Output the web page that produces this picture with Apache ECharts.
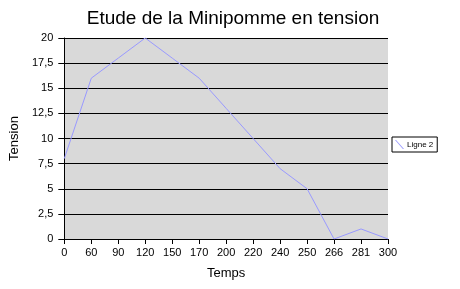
<!DOCTYPE html>
<html><head><meta charset="utf-8">
<script src="https://cdn.jsdelivr.net/npm/echarts@6/dist/echarts.min.js"></script>
<style>html,body{margin:0;padding:0;background:#fff}#c{width:460px;height:289px}</style>
</head><body><div id="c"></div>
<script>
var categories = ['0','60','90','120','150','170','200','220','240','250','266','281','300'];
var ligne2 = [8,16,18,20,18,16,13,10,7,5,0,1,0];
var yTicks = {min:0, max:20, interval:2.5};

var chart = echarts.init(document.getElementById('c'));
chart.setOption({
  animation:false,
  textStyle:{fontFamily:'Liberation Sans, Arial, sans-serif', color:'#000'},
  title:{text:'Etude de la Minipomme en tension', left:228, textAlign:'center', top:4,
    textStyle:{fontFamily:'Liberation Sans, Arial, sans-serif', fontSize:19, fontWeight:'normal', color:'#000'}},
  grid:{left:61, top:38, right:72, bottom:50, show:true, backgroundColor:'#d9d9d9', borderWidth:0},
  legend:{data:[{name:'Ligne 2', icon:'path://M0,0 L1.2,0 L10,10 L8.8,10 Z'}], left:392, top:137,
    orient:'vertical', itemWidth:9, itemHeight:9, itemGap:2,
    padding:[3,4,3,3], borderColor:'#000', borderWidth:1, backgroundColor:'#fff',
    textStyle:{fontSize:8, color:'#000', padding:[0,0,0,-2]}},
  xAxis:{type:'category', data:categories, boundaryGap:false,
    name:'Temps', nameLocation:'middle', nameGap:28,
    nameTextStyle:{fontSize:13, color:'#000'},
    axisLine:{lineStyle:{color:'#000', width:1}},
    axisTick:{show:true, length:5, alignWithLabel:true, lineStyle:{color:'#000'}},
    axisLabel:{fontSize:11, color:'#000', margin:8, interval:0},
    splitLine:{show:false}},
  yAxis:{type:'value', min:yTicks.min, max:yTicks.max, interval:yTicks.interval,
    name:'Tension', nameLocation:'middle', nameGap:36,
    nameTextStyle:{fontSize:13, color:'#000'},
    axisLine:{show:true, lineStyle:{color:'#000', width:1}},
    axisTick:{show:true, length:6, lineStyle:{color:'#000'}},
    axisLabel:{fontSize:11, color:'#000', margin:11, formatter:function(v){return String(v).replace('.',',');}},
    splitLine:{show:true, lineStyle:{color:'#000', width:1}}},
  series:[{name:'Ligne 2', type:'line', data:ligne2, symbol:'none',
    lineStyle:{color:'#9999ff', width:1}, itemStyle:{color:'#9999ff'}}]
});
</script></body></html>
